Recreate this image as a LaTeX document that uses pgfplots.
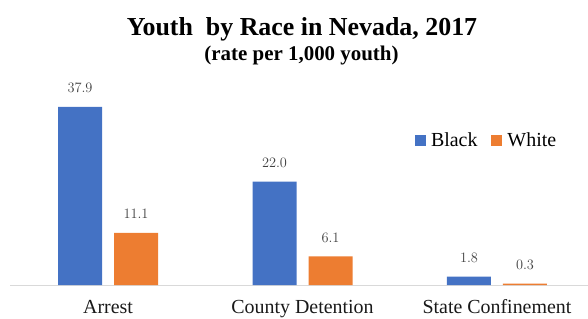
\documentclass[border=0pt]{standalone}
\usepackage{pgfplots}
\pgfplotsset{compat=1.18}
\usepackage{fontspec}
\setmainfont{Liberation Serif}
\definecolor{cblue}{HTML}{4472C4}
\definecolor{corange}{HTML}{ED7D31}
\definecolor{lbl}{HTML}{404040}
\definecolor{axgray}{HTML}{D9D9D9}
\begin{document}
\begin{tikzpicture}
\useasboundingbox (0bp,0bp) rectangle (588bp,-319bp);
\clip (0bp,0bp) rectangle (588bp,-319bp);
\node[font=\bfseries\fontsize{26}{26}\selectfont, anchor=base, inner sep=0pt] at (302bp,-35bp) {Youth\ \ by Race in Nevada, 2017};
\node[font=\bfseries\fontsize{21}{21}\selectfont, anchor=base, inner sep=0pt] at (301.5bp,-60.5bp) {(rate per 1,000 youth)};
\begin{axis}[
  at={(10bp,-285bp)}, anchor=south west,
  scale only axis, width=578bp, height=211.5bp,
  xmin=-0.504, xmax=2.468, ymin=0, ymax=45,
  ybar=12bp, bar width=44bp,
  axis x line*=bottom, axis y line=none,
  axis line style={-, draw=axgray, line width=1bp},
  xtick={0,1,2}, xticklabels={Arrest, County Detention, State Confinement},
  xtick style={draw=none}, major tick length=0pt,
  xticklabel style={font=\fontsize{20}{20}\selectfont, anchor=base, yshift=-28.8bp, text=black!90},
  clip=false,
  nodes near coords={\pgfmathprintnumber[fixed,fixed zerofill,precision=1]{\pgfplotspointmeta}},
  nodes near coords style={font=\fontsize{15}{15}\selectfont, text=lbl, anchor=base, yshift=14bp, inner sep=0pt},
  legend columns=2,
  legend style={draw=none, fill=none, inner sep=0pt, outer sep=0pt, anchor=west,
    at={(0.7007,0.6856)}, font=\fontsize{20}{20}\selectfont,
    nodes={inner sep=1bp},
    /tikz/every odd column/.append style={column sep=4bp},
    /tikz/every even column/.append style={column sep=13bp}},
  legend image code/.code={\fill[#1] (0bp,-5.5bp) rectangle (11bp,5.5bp);},
]
\addplot[fill=cblue, draw=none] coordinates {(0,37.9) (1,22.0) (2,1.8)};
\addplot[fill=corange, draw=none] coordinates {(0,11.1) (1,6.1) (2,0.3)};
\legend{Black, White}
\end{axis}
\end{tikzpicture}
\end{document}
